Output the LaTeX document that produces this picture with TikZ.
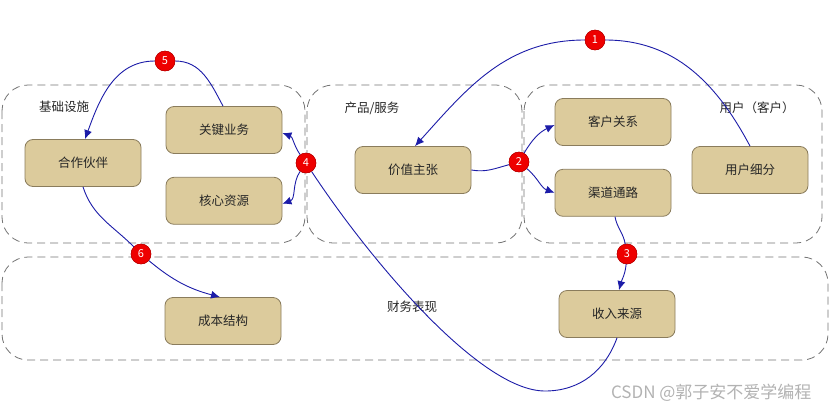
\documentclass[tikz,border=0pt]{standalone}
\usepackage{fontspec}
\setmainfont{Noto Sans CJK SC}
\usepackage{xcolor}
\usetikzlibrary{shapes,arrows.meta,positioning}

\definecolor{boxfill}{HTML}{DCCB9C}
\definecolor{boxline}{HTML}{8A7C5C}
\definecolor{linkblue}{HTML}{1C1CA8}
\definecolor{badgered}{HTML}{EE0000}

\begin{document}
\begin{tikzpicture}[x=1pt, y=-1pt,
  every node/.style={font=\fontsize{12.5pt}{15pt}\selectfont, text=black!85},
  group/.style={draw=black!55, dash pattern=on 8pt off 5pt, rounded corners=26pt, line width=0.8pt},
  block/.style={rectangle, rounded corners=8pt, minimum width=116pt, minimum height=47pt, text centered, draw=boxline, fill=boxfill, line width=0.8pt},
  badge/.style={circle, fill=badgered, draw=red!70!black, line width=0.4pt, minimum size=20pt, inner sep=0pt, text=white, font=\fontsize{11pt}{12pt}\selectfont},
  link/.style={draw=linkblue, line width=0.9pt},
  arrow/.style={link, -{Latex[length=9pt,width=8pt]}}]

  \useasboundingbox (0,0) rectangle (830,410);

  % dashed groups
  \draw [group] (2,85) rectangle (305,243);
  \draw [group] (307,85) rectangle (522,243);
  \draw [group] (524,85) rectangle (822,243);
  \draw [group] (2,257) rectangle (828,360);

  % group titles
  \node (tinfra) at (64,107) {基础设施};
  \node (tprod) at (372,108) {产品/服务};
  \node (tuser) at (757,108) {用户（客户）};
  \node (tfin) at (412,307) {财务表现};

  % blocks
  \node (partner) [block] at (83,163) {合作伙伴};
  \node (keyact) [block] at (224,130) {关键业务};
  \node (resource) [block, below=23pt of keyact] {核心资源};
  \node (value) [block] at (413,170) {价值主张};
  \node (crel) [block] at (613,122) {客户关系};
  \node (chan) [block, below=23pt of crel] {渠道通路};
  \node (user) [block] at (750,170) {用户细分};
  \node (cost) [block] at (223,321) {成本结构};
  \node (rev) [block] at (617,314) {收入来源};

  % numbered badges
  \node (b1) [badge] at (595,40) {1};
  \node (b2) [badge] at (519,162) {2};
  \node (b3) [badge] at (627,254) {3};
  \node (b4) [badge] at (306,163) {4};
  \node (b5) [badge] at (165,61) {5};
  \node (b6) [badge] at (141,254) {6};
  \coordinate (dip) at (545,391);

  % connectors
  \draw [link] (user.north) to[out=118,in=0] (b1);
  \draw [arrow] (b1) to[out=180,in=48] ([xshift=2pt]value.north);
  \draw [link] (value.east) to[out=-10,in=195] (b2);
  \draw [arrow] (b2) to[out=60,in=205] ([yshift=-3pt]crel.west);
  \draw [arrow] (b2) to[out=-40,in=160] (chan.west);
  \draw [link] ([xshift=2pt]chan.south) to[out=-80,in=100] (b3);
  \draw [arrow] (b3) to[out=-95,in=75] ([xshift=2pt]rev.north);
  \draw [link] (rev.south) to[out=-110,in=0] (dip) .. controls (480,391) and (370,260) .. (b4);
  \draw [arrow] (b4) to[out=125,in=-20] ([yshift=-3pt]keyact.east);
  \draw [arrow] (b4) to[out=-125,in=20] ([yshift=-3pt]resource.east);
  \draw [link] ([xshift=-1pt]keyact.north) to[out=118,in=0] (b5);
  \draw [arrow] (b5) to[out=180,in=70] ([xshift=2pt]partner.north);
  \draw [link] (partner.south) to[out=-72,in=135] (b6);
  \draw [arrow] (b6) to[out=-40,in=165] ([xshift=-3pt]cost.north);

  % redraw badges on top of the lines
  \foreach \b/\n in {b1/1,b2/2,b3/3,b4/4,b5/5,b6/6}
    \node [badge] at (\b) {\n};

  % watermark
  \node (mark) [anchor=east, text=black!30, font=\fontsize{17pt}{19pt}\selectfont] at (815,393) {CSDN @郭子安不爱学编程};
\end{tikzpicture}
\end{document}
